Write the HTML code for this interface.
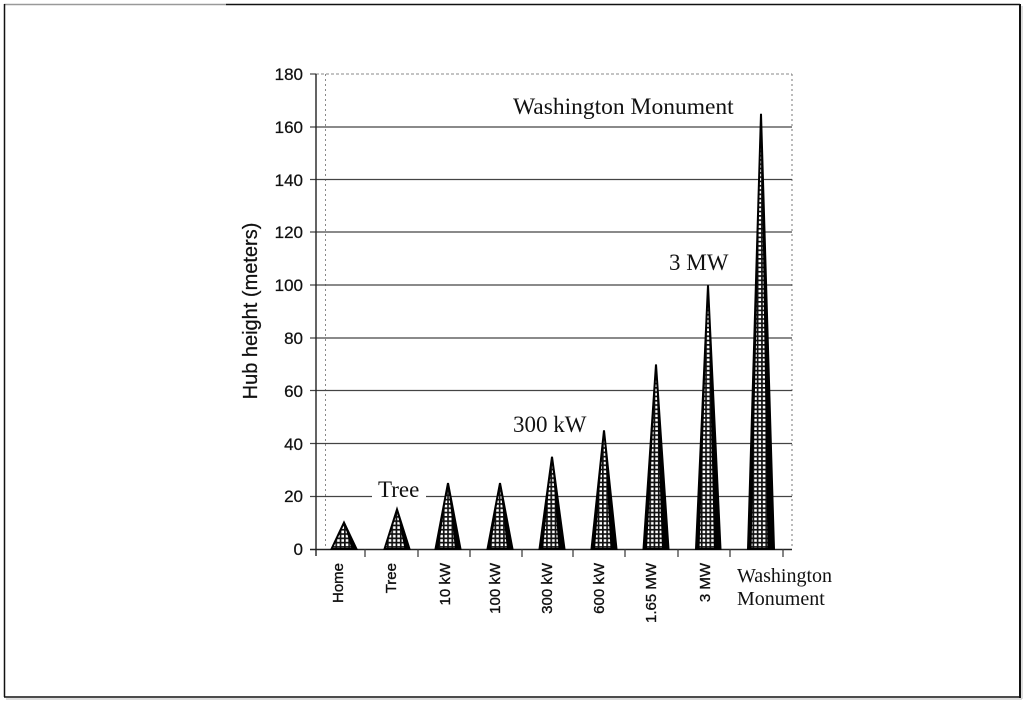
<!DOCTYPE html>
<html><head><meta charset="utf-8"><style>
html,body{margin:0;padding:0;background:#fff;}
svg{display:block;}
</style></head><body>
<svg width="1024" height="701" viewBox="0 0 1024 701" xmlns="http://www.w3.org/2000/svg">
<defs>
<pattern id="hatch" patternUnits="userSpaceOnUse" width="4.3" height="4.3">
<rect width="4.3" height="4.3" fill="#fff"/>
<rect x="0" y="0" width="4.3" height="1.7" fill="#111"/>
<rect x="0" y="0" width="1.7" height="4.3" fill="#111"/>
</pattern>
</defs>
<rect width="1024" height="701" fill="#fff"/>
<!-- outer border -->
<line x1="4" y1="4.5" x2="226" y2="4.5" stroke="#999" stroke-width="1.5"/>
<line x1="226" y1="4.5" x2="1020" y2="4.5" stroke="#111" stroke-width="1.5"/>
<line x1="4.5" y1="4" x2="4.5" y2="697" stroke="#111" stroke-width="1.5"/>
<line x1="1020" y1="4" x2="1020" y2="698" stroke="#111" stroke-width="2"/>
<line x1="1022" y1="6" x2="1022" y2="699" stroke="#bbb" stroke-width="1"/>
<line x1="4" y1="697" x2="1021" y2="697" stroke="#111" stroke-width="1.6"/>
<line x1="6" y1="699" x2="1022" y2="699" stroke="#bbb" stroke-width="1"/>

<!-- plot frame -->
<line x1="316" y1="74" x2="792" y2="74" stroke="#888" stroke-width="1" stroke-dasharray="3,2"/>
<line x1="792" y1="74" x2="792" y2="549" stroke="#777" stroke-width="1" stroke-dasharray="2,3"/>
<line x1="325.5" y1="74" x2="325.5" y2="549" stroke="#888" stroke-width="1" stroke-dasharray="2,3"/>

<!-- gridlines -->
<g stroke="#444" stroke-width="1.2">
<line x1="310" y1="127" x2="792" y2="127"/>
<line x1="310" y1="179.5" x2="792" y2="179.5"/>
<line x1="310" y1="232" x2="792" y2="232"/>
<line x1="310" y1="285" x2="792" y2="285"/>
<line x1="310" y1="338" x2="792" y2="338"/>
<line x1="310" y1="390.5" x2="792" y2="390.5"/>
<line x1="310" y1="443.5" x2="792" y2="443.5"/>
<line x1="310" y1="496.5" x2="372" y2="496.5"/>
<line x1="426" y1="496.5" x2="792" y2="496.5"/>
<line x1="310" y1="74" x2="316" y2="74"/>
</g>
<!-- axes -->
<line x1="316" y1="74" x2="316" y2="556" stroke="#222" stroke-width="1.4"/>
<line x1="310" y1="549.5" x2="792" y2="549.5" stroke="#222" stroke-width="1.6"/>
<g stroke="#333" stroke-width="1.2">
<line x1="365" y1="549" x2="365" y2="557"/>
<line x1="418" y1="549" x2="418" y2="557"/>
<line x1="470" y1="549" x2="470" y2="557"/>
<line x1="522" y1="549" x2="522" y2="557"/>
<line x1="573" y1="549" x2="573" y2="557"/>
<line x1="625" y1="549" x2="625" y2="557"/>
<line x1="678" y1="549" x2="678" y2="557"/>
<line x1="730" y1="549" x2="730" y2="557"/>
<line x1="783" y1="549" x2="783" y2="557"/>
</g>

<!-- y tick labels -->
<g font-family="Liberation Sans, Arial, sans-serif" font-size="17" fill="#111" text-anchor="end" stroke="#111" stroke-width="0.25">
<text x="303" y="80">180</text>
<text x="303" y="133">160</text>
<text x="303" y="186">140</text>
<text x="303" y="238">120</text>
<text x="303" y="291">100</text>
<text x="303" y="344">80</text>
<text x="303" y="397">60</text>
<text x="303" y="450">40</text>
<text x="303" y="502">20</text>
<text x="303" y="555">0</text>
</g>
<text transform="translate(257,311) rotate(-90)" font-family="Liberation Sans, Arial, sans-serif" font-size="20" fill="#111" stroke="#111" stroke-width="0.25" text-anchor="middle">Hub height (meters)</text>

<!-- triangles -->
<g id="tris">
<polygon points="344,522.6 331.5,549 356.5,549" fill="url(#hatch)" stroke="#000" stroke-width="2"/>
<polygon points="344,522.6 356.5,549 351.5,549" fill="#000"/>
<polygon points="397,509.4 384.5,549 409.5,549" fill="url(#hatch)" stroke="#000" stroke-width="2"/>
<polygon points="397,509.4 409.5,549 404.5,549" fill="#000"/>
<polygon points="448,483 435.5,549 460.5,549" fill="url(#hatch)" stroke="#000" stroke-width="2"/>
<polygon points="448,483 460.5,549 455,549" fill="#000"/>
<polygon points="448,483 435.5,549 438.5,549" fill="#000"/>
<polygon points="500,483 487.5,549 512.5,549" fill="url(#hatch)" stroke="#000" stroke-width="2"/>
<polygon points="500,483 512.5,549 507,549" fill="#000"/>
<polygon points="500,483 487.5,549 490.5,549" fill="#000"/>
<polygon points="552,456.7 539.5,549 564.5,549" fill="url(#hatch)" stroke="#000" stroke-width="2"/>
<polygon points="552,456.7 564.5,549 558.5,549" fill="#000"/>
<polygon points="552,456.7 539.5,549 543,549" fill="#000"/>
<polygon points="604,430.3 591.5,549 616.5,549" fill="url(#hatch)" stroke="#000" stroke-width="2"/>
<polygon points="604,430.3 616.5,549 610.5,549" fill="#000"/>
<polygon points="604,430.3 591.5,549 595,549" fill="#000"/>
<polygon points="656,364.4 643.5,549 668.5,549" fill="url(#hatch)" stroke="#000" stroke-width="2"/>
<polygon points="656,364.4 668.5,549 662,549" fill="#000"/>
<polygon points="656,364.4 643.5,549 647,549" fill="#000"/>
<polygon points="708,285.3 696,549 720.5,549" fill="url(#hatch)" stroke="#000" stroke-width="2"/>
<polygon points="708,285.3 720.5,549 714,549" fill="#000"/>
<polygon points="708,285.3 696,549 699.5,549" fill="#000"/>
<polygon points="761,113.8 748,549 774,549" fill="url(#hatch)" stroke="#000" stroke-width="2"/>
<polygon points="761,113.8 774,549 767.5,549" fill="#000"/>
<polygon points="761,113.8 748,549 751.5,549" fill="#000"/>
</g>

<!-- annotation labels -->
<g font-family="Liberation Serif, 'Times New Roman', serif" fill="#111">
<text x="513" y="114" font-size="23.5">Washington Monument</text>
<text x="669" y="270" font-size="23">3 MW</text>
<text x="513" y="432" font-size="23">300 kW</text>
<text x="378" y="497" font-size="23">Tree</text>
<text x="737" y="582" font-size="20">Washington</text>
<text x="737" y="605" font-size="20">Monument</text>
</g>

<!-- x tick labels -->
<g font-family="Liberation Sans, Arial, sans-serif" font-size="15" fill="#111" text-anchor="end" stroke="#111" stroke-width="0.35">
<text transform="translate(343,563) rotate(-90)">Home</text>
<text transform="translate(396,563) rotate(-90)">Tree</text>
<text transform="translate(450,563) rotate(-90)">10 kW</text>
<text transform="translate(500,563) rotate(-90)">100 kW</text>
<text transform="translate(552,563) rotate(-90)">300 kW</text>
<text transform="translate(604,563) rotate(-90)">600 kW</text>
<text transform="translate(656,563) rotate(-90)">1.65 MW</text>
<text transform="translate(710,563) rotate(-90)">3 MW</text>
</g>
</svg>
</body></html>
